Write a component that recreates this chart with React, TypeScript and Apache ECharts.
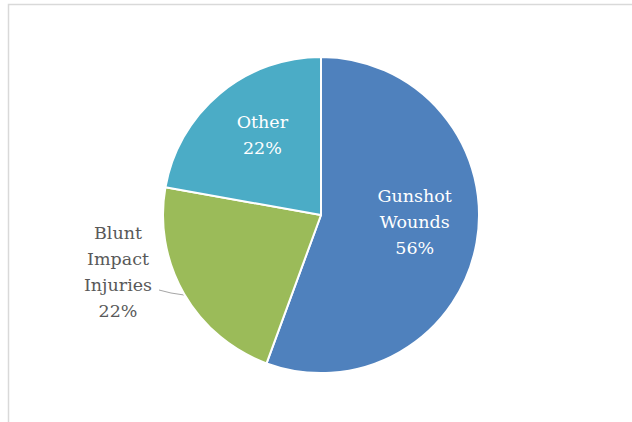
import React, { useEffect, useRef } from "react";
import * as echarts from "echarts";

const categories = ["Gunshot\nWounds", "Blunt\nImpact\nInjuries", "Other"];
const values = [55.6, 22.2, 22.2];
const colors = ["#4F81BD", "#9BBB59", "#4BACC6"];

export default function App() {
  const ref = useRef<HTMLDivElement>(null);
  useEffect(() => {
    if (!ref.current) return;
    const chart = echarts.init(ref.current, null, { renderer: "svg" });
    const total = values.reduce((a, b) => a + b, 0);
    chart.setOption({
      animation: false,
      backgroundColor: "#ffffff",
      graphic: [
        {
          type: "rect",
          shape: { x: 8.5, y: 4.5, width: 700, height: 500 },
          style: { fill: "none", stroke: "#d9d9d9", lineWidth: 1.5 },
          silent: true,
          z: -10,
        },
      ],
      series: [
        {
          type: "pie",
          center: [321, 215],
          radius: [0, 158],
          startAngle: 90,
          clockwise: true,
          itemStyle: { borderColor: "#ffffff", borderWidth: 2 },
          labelLine: { show: true, length: 4, length2: 18, lineStyle: { color: "#a6a6a6", width: 1 } },
          labelLayout: (p: any) => {
            if (p.dataIndex === 0) return { dx: 13, dy: -7 };
            if (p.dataIndex === 2) return { dx: -6, dy: -17 };
            if (p.dataIndex === 1)
              return {
                x: 118,
                y: 272,
                align: "center",
                verticalAlign: "middle",
                labelLinePoints: [
                  [184, 295],
                  [171, 293],
                  [159, 290],
                ],
              };
            return {};
          },
          data: categories.map((name, i) => ({
            name,
            value: values[i],
            itemStyle: { color: colors[i] },
            label: {
              show: true,
              position: i === 1 ? "outside" : "inside",
              color: i === 1 ? "#595959" : "#ffffff",
              fontFamily: "DejaVu Serif",
              fontSize: 17.5,
              lineHeight: 26,
              align: "center",
              formatter: (prm: any) => `${prm.name}\n${Math.round((prm.value / total) * 100)}%`,
            },
            labelLine: { show: i === 1 },
          })),
        },
      ],
    });
    return () => chart.dispose();
  }, []);
  return (
    <div
      ref={ref}
      style={{ position: "fixed", left: 0, top: 0, width: 632, height: 422 }}
    />
  );
}
